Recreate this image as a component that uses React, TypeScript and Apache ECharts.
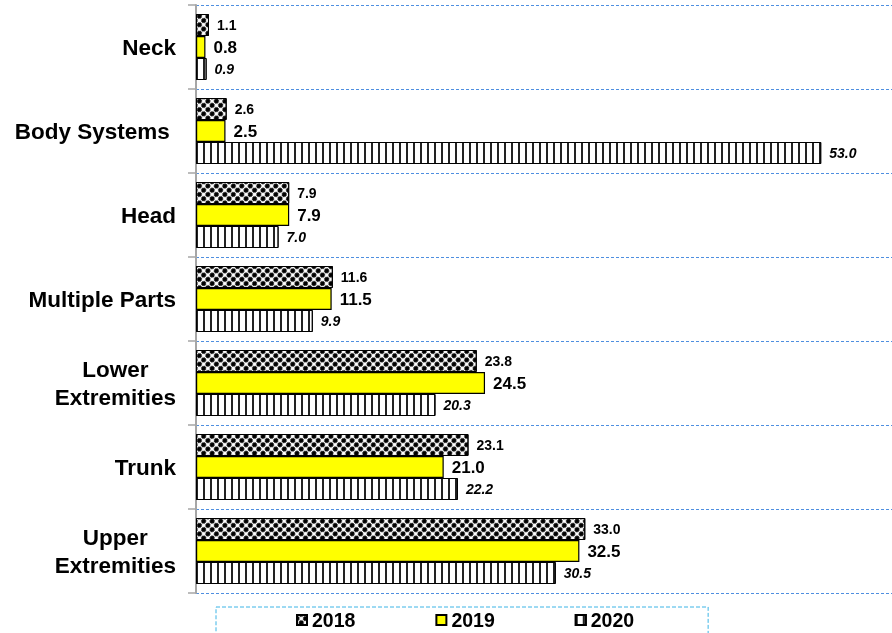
import React, { useEffect, useRef } from "react";
import * as echarts from "echarts";

const categories = ["Neck", "Body Systems", "Head", "Multiple Parts", "Lower Extremities", "Trunk", "Upper Extremities"];
const categoryLabels = ["Neck", "Body Systems ", "Head", "Multiple Parts", "Lower\nExtremities", "Trunk", "Upper\nExtremities"];
const seriesNames = ["2018", "2019", "2020"];
const values2018 = [1.1, 2.6, 7.9, 11.6, 23.8, 23.1, 33.0];
const values2019 = [0.8, 2.5, 7.9, 11.5, 24.5, 21.0, 32.5];
const values2020 = [0.9, 53.0, 7.0, 9.9, 20.3, 22.2, 30.5];

const FONT = 'Arial, "Liberation Sans", sans-serif';

export default function App() {
  const ref = useRef<HTMLDivElement>(null);
  useEffect(() => {
    if (!ref.current) return;
    const chart = echarts.init(ref.current, null, { renderer: "svg" });
    const fmt = (p: any) => Number(p.value).toFixed(1);
    const base = {
      type: "bar",
      barWidth: 22,
      barGap: "0%",
    };
    chart.setOption({
      animation: false,
      textStyle: { fontFamily: FONT },
      grid: { left: 196, right: 0, top: 5, bottom: 40, containLabel: false },
      xAxis: {
        type: "value",
        min: 0,
        max: 59,
        show: false,
        splitLine: { show: false },
      },
      yAxis: {
        type: "category",
        inverse: true,
        data: categories,
        axisLine: { show: true, lineStyle: { color: "#a6a6a6", width: 2 } },
        axisTick: { show: true, length: 8, lineStyle: { color: "#a6a6a6", width: 1.5 } },
        splitLine: { show: true, lineStyle: { color: "#4f8fe0", type: [3, 2], width: 1 } },
        axisLabel: {
          margin: 20,
          fontSize: 22.5,
          fontWeight: "bold",
          color: "#000",
          fontFamily: FONT,
          lineHeight: 28,
          formatter: (v: string) => {
            const lbl = categoryLabels[categories.indexOf(v)];
            if (lbl.indexOf("\n") >= 0) {
              return lbl.split("\n").map((s) => "{c|" + s + "}").join("\n");
            }
            return lbl;
          },
          rich: {
            c: { align: "center", fontSize: 22.5, fontWeight: "bold", color: "#000", fontFamily: FONT, lineHeight: 28 },
          },
        },
      },
      legend: {
        data: seriesNames,
        top: 607,
        left: 216,
        icon: "rect",
        padding: [3, 74, 10, 80],
        itemGap: 80,
        itemWidth: 10,
        itemHeight: 10,
        borderColor: "#3cb4e6",
        borderWidth: 1,
        borderType: "dashed",
        textStyle: { fontSize: 19.5, fontWeight: "bold", color: "#000", fontFamily: FONT },
      },
      series: [
        {
          ...base,
          name: seriesNames[0],
          data: values2018,
          itemStyle: {
            color: "#ffffff",
            borderColor: "#000",
            borderWidth: 1,
            decal: {
              symbol: "circle",
              symbolSize: 1,
              color: "#000000",
              rotation: Math.PI / 4,
              dashArrayX: [4.3, 1],
              dashArrayY: [4.3, 1],
            },
          },
          label: {
            show: true,
            position: "right",
            distance: 8,
            formatter: fmt,
            fontSize: 14,
            fontWeight: "bold",
            color: "#000",
            fontFamily: FONT,
          },
        },
        {
          ...base,
          name: seriesNames[1],
          data: values2019,
          itemStyle: { color: "#ffff00", borderColor: "#000", borderWidth: 1.2 },
          label: {
            show: true,
            position: "right",
            distance: 8,
            formatter: fmt,
            fontSize: 17,
            fontWeight: "bold",
            color: "#000",
            fontFamily: FONT,
          },
        },
        {
          ...base,
          name: seriesNames[2],
          data: values2020,
          itemStyle: {
            color: "#ffffff",
            borderColor: "#000",
            borderWidth: 1,
            decal: {
              symbol: "rect",
              symbolSize: 1,
              color: "#222",
              dashArrayX: [1.2, 4.3],
              dashArrayY: [6, 0],
            },
          },
          label: {
            show: true,
            position: "right",
            distance: 8,
            formatter: fmt,
            fontSize: 14,
            fontWeight: "bold",
            fontStyle: "italic",
            color: "#000",
            fontFamily: FONT,
          },
        },
      ],
    });
    return () => chart.dispose();
  }, []);
  return <div ref={ref} style={{ position: "fixed", left: 0, top: 0, width: 892, height: 633 }} />;
}
